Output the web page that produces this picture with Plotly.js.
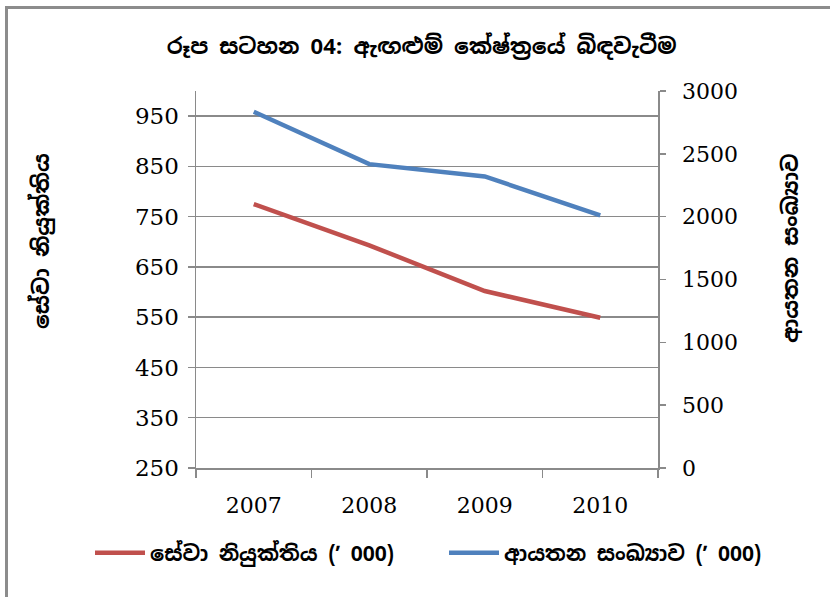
<!DOCTYPE html>
<html>
<head>
<meta charset="utf-8">
<script src="https://cdn.plot.ly/plotly-3.0.1.min.js"></script>
<style>
  html, body { margin:0; padding:0; background:#fff; overflow:hidden; }
  #wrap { position:relative; width:830px; height:597px; overflow:hidden; }
  #chart { position:absolute; left:0; top:0; width:830px; height:597px; }
  #frame { position:absolute; left:5px; top:6px; width:900px; height:700px; border:3px solid #8c8c8c; pointer-events:none; box-sizing:border-box; }
</style>
</head>
<body>
<div id="wrap">
  <div id="chart"></div>
  <div id="frame"></div>
</div>
<script>
const years = ['2007', '2008', '2009', '2010'];
const employment = [775, 693, 602, 549];          // සේවා නියුක්තිය ('000)
const establishments = [2835, 2418, 2320, 2011];  // ආයතන සංඛ්‍යාව ('000)
const employmentName = 'සේවා නියුක්තිය (\u02BC 000)';
const establishmentsName = 'ආයතන සංඛ්‍යාව (\u02BC 000)';
const chartTitle = 'රූප සටහන 04: ඇඟළුම් කේෂ්ත්‍රයේ බිඳවැටීම';
const leftTitle = 'සේවා නියුක්තිය';
const rightTitle = 'ආයතන සංඛ්‍යාව';

const serif = '"DejaVu Serif", "Liberation Serif", serif';
const sinh = '"Noto Sans Sinhala", "Iskoola Pota", "Noto Sans", "DejaVu Sans", sans-serif';
const grid = '#8a8a8a';

const traces = [
  { x: years, y: employment, name: employmentName, type: 'scatter', mode: 'lines',
    line: { color: '#C0504D', width: 4.5 }, yaxis: 'y', legend: 'legend' },
  { x: years, y: establishments, name: establishmentsName, type: 'scatter', mode: 'lines',
    line: { color: '#4F81BD', width: 4.5 }, yaxis: 'y2', legend: 'legend2' }
];

const tickFont = { family: serif, size: 22, color: '#000' };
const boldSinh = (s) => ({ family: sinh, size: s, color: '#000', weight: 'bold' });
const px2x = (px) => (px - 196) / 462;
const px2y = (py) => (468 - py) / 377;

const legendBase = {
  orientation: 'h', xref: 'paper', yref: 'paper', xanchor: 'left', yanchor: 'middle',
  y: px2y(553), font: boldSinh(21), itemwidth: 50, bgcolor: 'rgba(0,0,0,0)', borderwidth: 0
};

const layout = {
  width: 830, height: 597,
  margin: { l: 196, r: 172, t: 91, b: 129, autoexpand: false },
  paper_bgcolor: '#fff', plot_bgcolor: '#fff',
  title: { text: chartTitle, x: 0.508, xref: 'container', y: 0.922, yref: 'container', yanchor: 'middle',
           font: boldSinh(22) },
  xaxis: {
    type: 'category', range: [-0.5, 3.5], tickson: 'boundaries', automargin: false,
    showline: true, linecolor: grid, linewidth: 1.5, showgrid: false,
    ticks: 'outside', ticklen: 8, tickcolor: grid, tickwidth: 1.5,
    ticklabelstandoff: 17, tickangle: 0,
    tickfont: tickFont, zeroline: false
  },
  yaxis: {
    range: [250, 1000], tick0: 250, dtick: 100, automargin: false,
    showline: true, linecolor: grid, linewidth: 1.5,
    showgrid: true, gridcolor: grid, gridwidth: 1.5,
    ticks: 'outside', ticklen: 7, tickcolor: grid, tickwidth: 1.5,
    ticklabelstandoff: 4,
    tickfont: { family: serif, size: 23, color: '#000' }, zeroline: false
  },
  yaxis2: {
    overlaying: 'y', side: 'right', range: [0, 3000], dtick: 500, automargin: false,
    showline: true, linecolor: grid, linewidth: 1.5, showgrid: false,
    ticks: 'outside', ticklen: 6, tickcolor: grid, tickwidth: 1.5,
    ticklabelstandoff: 12,
    tickfont: tickFont, zeroline: false
  },
  annotations: [
    { text: leftTitle, xref: 'paper', yref: 'paper', x: px2x(41), y: px2y(241), textangle: -90,
      showarrow: false, xanchor: 'center', yanchor: 'middle', font: boldSinh(22) },
    { text: rightTitle, xref: 'paper', yref: 'paper', x: px2x(790), y: px2y(248), textangle: -90,
      showarrow: false, xanchor: 'center', yanchor: 'middle', font: boldSinh(22) }
  ],
  showlegend: true,
  legend: Object.assign({}, legendBase, { x: px2x(90) }),
  legend2: Object.assign({}, legendBase, { x: px2x(444) })
};

Plotly.newPlot('chart', traces, layout, { displayModeBar: false, staticPlot: true });
</script>
</body>
</html>
